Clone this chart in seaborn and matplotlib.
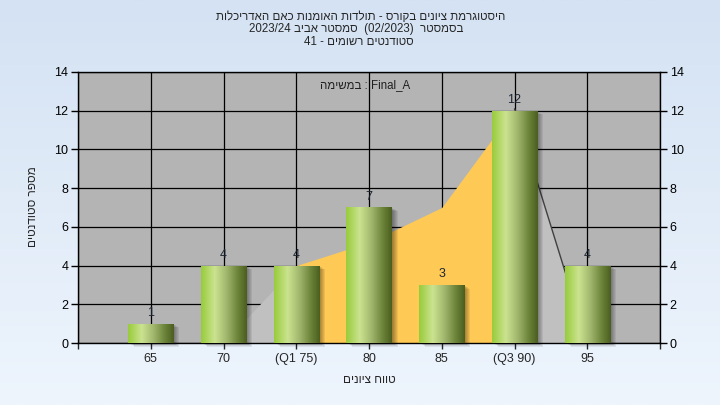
import numpy as np
import pandas as pd
import matplotlib
matplotlib.use("Agg")
import matplotlib.pyplot as plt
import seaborn as sns
from matplotlib.colors import LinearSegmentedColormap
from matplotlib.patches import Rectangle

# ---------------- data ----------------
categories = ["65", "70", "(Q1 75)", "80", "85", "(Q3 90)", "95"]
counts = [1, 4, 4, 7, 3, 12, 4]
curve = [0, 0, 4, 5.2, 7, 12.1, 0]          # background distribution shape
y_ticks = [0, 2, 4, 6, 8, 10, 12, 14]

title_1 = "היסטוגרמת ציונים בקורס - תולדות האומנות כאם האדריכלות"
title_2_words = ("בסמסטר", "(02/2023)", "סמסטר אביב", "2023/24")
title_3_words = ("סטודנטים רשומים", "41")
task_label = ("במשימה", "Final_A")
x_title = "טווח ציונים"
y_title = "מספר סטודנטים"


def heb(s):
    """visual (left-to-right) order for a pure Hebrew phrase"""
    return s[::-1]


line1 = heb(title_1)
line2 = (title_2_words[3] + " " + heb(title_2_words[2]) + "  "
         + title_2_words[1] + "  " + heb(title_2_words[0]))
line3 = title_3_words[1] + " - " + heb(title_3_words[0])
task_text = heb(task_label[0]) + " : " + task_label[1]

# ---------------- style ----------------
sns.set_style("white")
plt.rcParams["font.family"] = ["Liberation Sans", "DejaVu Sans"]
plt.rcParams["font.size"] = 9

fig = plt.figure(figsize=(7.2, 4.05), dpi=100)

# figure background gradient
bg = fig.add_axes([0, 0, 1, 1], zorder=-10)
grad = np.linspace(0, 1, 256).reshape(-1, 1)
bg_cmap = LinearSegmentedColormap.from_list("bg", ["#d4e2f3", "#eef5fd"])
bg.imshow(grad, aspect="auto", cmap=bg_cmap, extent=[0, 1, 0, 1], origin="upper")
bg.set_axis_off()

ax = fig.add_axes([78 / 720, 62 / 405, 582 / 720, 271 / 405])
ax.set_facecolor("#b4b4b4")
ax.set_axisbelow(True)

df = pd.DataFrame({"grade": categories, "count": counts})
sns.barplot(data=df, x="grade", y="count", order=categories, width=0.62,
            color="#8fb04a", saturation=1, ax=ax, zorder=3)
bars = list(ax.patches)

# background distribution areas
xs = np.arange(len(categories))
ax.fill_between(xs[1:3], curve[1:3], 0, color="#c0c0c0", lw=0, zorder=1)
ax.fill_between(xs[2:6], curve[2:6], 0, color="#fec955", lw=0, zorder=1)
ax.fill_between(xs[5:7], curve[5:7], 0, color="#c0c0c0", lw=0, zorder=1)
ax.plot(xs[5:7], curve[5:7], color="#404040", lw=1, zorder=1.1)

# gradient + shadow on bars
bar_cmap = LinearSegmentedColormap.from_list(
    "bar", [(0.0, "#98cb3a"), (0.3, "#cbe390"), (0.55, "#a2b86e"),
            (0.8, "#6c843a"), (1.0, "#4a5e1e")])
hgrad = np.linspace(0, 1, 256).reshape(1, -1)
px_x = 8.0 / 582
px_y = 14.0 / 271
for p in bars:
    x0, w, h = p.get_x(), p.get_width(), p.get_height()
    for k in range(1, 7):
        sh = Rectangle((x0 + k * px_x, -k * px_y * 0.6), w, h, color="black",
                       alpha=0.07, lw=0, zorder=2.5, clip_on=False)
        ax.add_patch(sh)
    p.set_edgecolor("none")
    im = ax.imshow(hgrad, cmap=bar_cmap, aspect="auto",
                   extent=[x0, x0 + w, 0, h], zorder=3.1)
    im.set_clip_path(p)

# value labels
for i, c in enumerate(counts):
    ax.annotate(str(c), (i, c), xytext=(0, 3.5), textcoords="offset points",
                ha="center", va="bottom", color="#1c2430", fontsize=9, zorder=5)

# axes
ax.set_xlim(-1, len(categories))
ax.set_ylim(0, 14)
ax.set_xticks(np.arange(-1, len(categories) + 1))
ax.set_xticklabels([""] + categories + [""])
ax.set_yticks(y_ticks)
ax.grid(True, color="black", lw=0.9)
for s in ax.spines.values():
    s.set_color("black")
    s.set_linewidth(1)
ax.tick_params(axis="y", left=True, right=True, labelleft=True, labelright=True,
               length=5, width=1, pad=2, labelsize=9, colors="black")
ax.tick_params(axis="x", bottom=True, length=4, width=1, pad=3, labelsize=9)
ax.set_xlabel("")
ax.set_ylabel("")

ax.text(0.571, 0.952, task_text, transform=ax.transAxes, ha="right",
        va="center", fontsize=8.3, color="#202020", zorder=6)

# titles
fig.text(361 / 720, 1 - 17 / 405, line1, ha="center", va="center", fontsize=8.3)
fig.text(356 / 720, 1 - 29 / 405, line2, ha="center", va="center", fontsize=8.3)
fig.text(359 / 720, 1 - 42 / 405, line3, ha="center", va="center", fontsize=8.3)
fig.text(369 / 720, 1 - 380 / 405, heb(x_title), ha="center", va="center",
         fontsize=8.5)
fig.text(33 / 720, 1 - 207 / 405, heb(y_title), ha="center", va="center",
         rotation=90, fontsize=8.5)

fig.savefig("out.png", dpi=100)
